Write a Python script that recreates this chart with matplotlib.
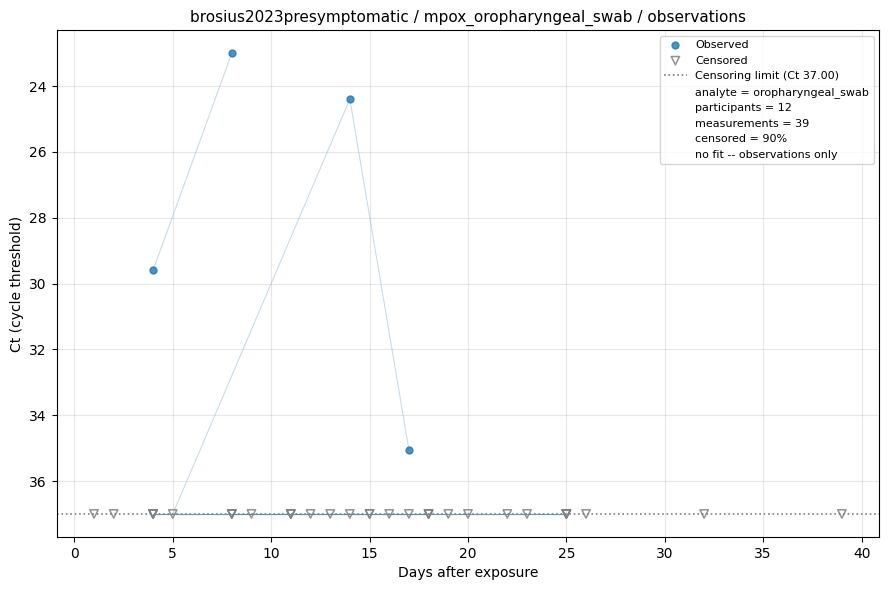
import matplotlib
matplotlib.use("Agg")
import matplotlib.pyplot as plt
from matplotlib.lines import Line2D

LIMIT = 37.0

# per participant: days, ct values, censored flags
p_days = [
    [4, 8],
    [5, 14, 17],
    [4, 8, 11, 15, 18, 25],
    [8, 11, 18, 25],
    [4, 8, 15, 18],
    [4, 9, 12, 16, 19, 22, 25],
    [4, 11, 13, 14, 17, 20, 23, 25],
    [1],
    [2],
    [26],
    [32],
    [39],
]
p_ct = [
    [29.6, 23.0],
    [37.0, 24.4, 35.05],
    [37.0] * 6,
    [37.0] * 4,
    [37.0] * 4,
    [37.0] * 7,
    [37.0] * 8,
    [37.0],
    [37.0],
    [37.0],
    [37.0],
    [37.0],
]
p_cens = [
    [False, False],
    [True, False, False],
    [True] * 6,
    [True] * 4,
    [True] * 4,
    [True] * 7,
    [True] * 8,
    [True],
    [True],
    [True],
    [True],
    [True],
]

fig, ax = plt.subplots(figsize=(8.89, 5.9), dpi=100)

obs_x, obs_y, cen_x, cen_y = [], [], [], []
for d, c, f in zip(p_days, p_ct, p_cens):
    if len(d) > 1:
        ax.plot(d, c, color="tab:blue", alpha=0.25, lw=0.8, zorder=1)
    for xi, yi, fi in zip(d, c, f):
        if fi:
            cen_x.append(xi)
            cen_y.append(yi)
        else:
            obs_x.append(xi)
            obs_y.append(yi)

ax.scatter(obs_x, obs_y, s=25, color="tab:blue", alpha=0.8, label="Observed", zorder=3)
ax.scatter(cen_x, cen_y, s=36, marker="v", facecolors="none", edgecolors="gray",
           linewidths=1.1, alpha=0.85, label="Censored", zorder=3)
ax.axhline(LIMIT, color="gray", ls=":", lw=1.2, label="Censoring limit (Ct %.2f)" % LIMIT)

n_meas = len(obs_x) + len(cen_x)
extra = [
    "analyte = oropharyngeal_swab",
    "participants = %d" % len(p_days),
    "measurements = %d" % n_meas,
    "censored = %d%%" % round(100 * len(cen_x) / n_meas),
    "no fit -- observations only",
]
handles, labels = ax.get_legend_handles_labels()
for t in extra:
    handles.append(Line2D([], [], linestyle="none"))
    labels.append(t)

ax.invert_yaxis()
ax.grid(True, alpha=0.3)
ax.set_xlabel("Days after exposure")
ax.set_ylabel("Ct (cycle threshold)")
ax.set_title("brosius2023presymptomatic / mpox_oropharyngeal_swab / observations", fontsize=11)
ax.legend(handles, labels, loc="upper right", fontsize=8)

fig.tight_layout(pad=0.7)
fig.savefig("out.png")
